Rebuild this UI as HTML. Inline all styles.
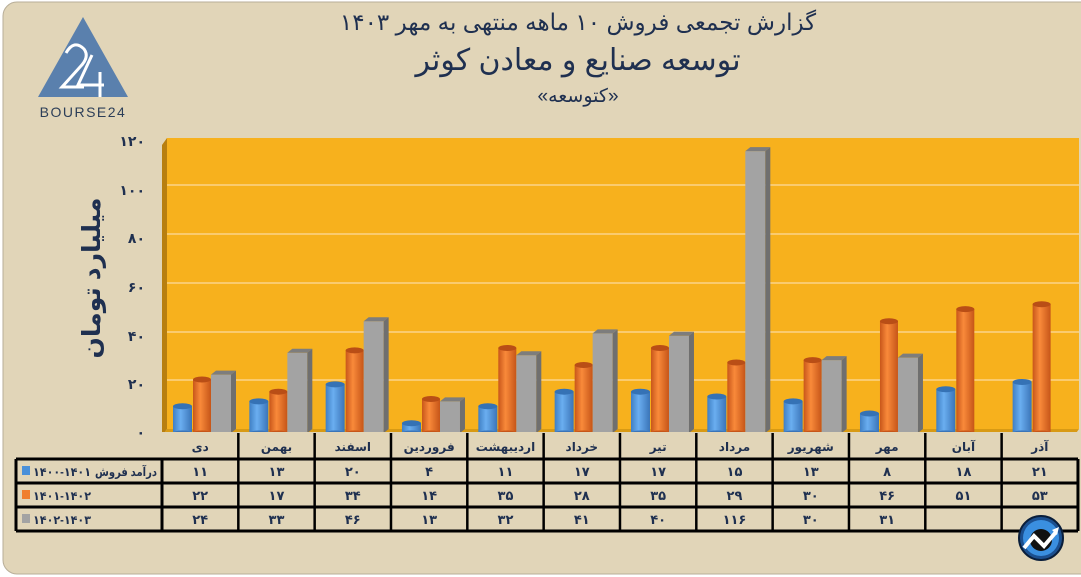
<!DOCTYPE html>
<html><head><meta charset="utf-8"><style>
body{margin:0;background:#fff}
svg{display:block}
text{font-family:"Liberation Sans","DejaVu Sans",sans-serif}
</style></head><body>
<svg width="1081" height="577" viewBox="0 0 1081 577" xmlns="http://www.w3.org/2000/svg">
<defs>
<linearGradient id="gb" x1="0" x2="1"><stop offset="0" stop-color="#3f7fc4"/><stop offset="0.4" stop-color="#6aaef0"/><stop offset="1" stop-color="#3a74b8"/></linearGradient>
<linearGradient id="go" x1="0" x2="1"><stop offset="0" stop-color="#c8561a"/><stop offset="0.4" stop-color="#f98a3a"/><stop offset="1" stop-color="#c65518"/></linearGradient>
</defs>
<rect x="0" y="0" width="1081" height="577" fill="#fff"/>
<rect x="3" y="2" width="1100" height="572" rx="14" fill="#e1d5b8" stroke="#b8ae98" stroke-width="1"/>
<polygon points="83,17 128,97 38,97" fill="#5a80ad"/>
<path d="M66,53 q8,-14 18,-4 q6,8 -4,18 l-18,20 h22" stroke="#fff" stroke-width="3" fill="none"/>
<path d="M92,55 l-14,30 h26 M100,72 v25" stroke="#fff" stroke-width="3" fill="none"/>
<text x="83" y="117" font-size="14" fill="#2c3e58" text-anchor="middle" letter-spacing="1.5">BOURSE24</text>
<text x="578" y="30" font-size="23" fill="#1f3050" text-anchor="middle">گزارش تجمعی فروش ۱۰ ماهه منتهی به مهر ۱۴۰۳</text>
<text x="578" y="70" font-size="30" fill="#1f3050" text-anchor="middle">توسعه صنایع و معادن کوثر</text>
<text x="578" y="102" font-size="19" fill="#1f3050" text-anchor="middle">«کتوسعه»</text>
<polygon points="162,145 167,138 167,429 162,436" fill="#b87f10"/>
<rect x="167" y="138" width="912" height="291" fill="#f7b11d"/>
<polygon points="162,436 167,429 1079,429 1074,436" fill="#d89a14"/>
<g stroke="#fbd48a" stroke-width="1.5">
<line x1="167" y1="185" x2="1079" y2="185"/><line x1="167" y1="234" x2="1079" y2="234"/>
<line x1="167" y1="283" x2="1079" y2="283"/><line x1="167" y1="332" x2="1079" y2="332"/>
<line x1="167" y1="380" x2="1079" y2="380"/>
</g>
<g font-size="14" font-weight="bold" fill="#1f3050" text-anchor="end">
<text x="145" y="146">۱۲۰</text><text x="145" y="195">۱۰۰</text><text x="145" y="243">۸۰</text>
<text x="145" y="292">۶۰</text><text x="145" y="341">۴۰</text><text x="145" y="389">۲۰</text><text x="145" y="437">۰</text>
</g>
<text transform="translate(100,278) rotate(-90)" font-size="25" font-weight="bold" fill="#1f3050" text-anchor="middle">میلیارد تومان</text>
<g id="bars"></g>
<rect x="162" y="432" width="916" height="26" fill="#e1d5b8"/>
<g stroke="#000" stroke-width="3" fill="none">
<line x1="16" y1="459" x2="1078" y2="459"/><line x1="16" y1="483" x2="1078" y2="483"/>
<line x1="16" y1="507" x2="1078" y2="507"/><line x1="16" y1="531" x2="1078" y2="531"/>
<line x1="16" y1="459" x2="16" y2="531"/>
</g>
<g id="tbl"></g>
<circle cx="1041" cy="538" r="22" fill="#1b4f8f" stroke="#0a1e3a" stroke-width="2"/>
<circle cx="1041" cy="538" r="18" fill="#3a8fe0"/>
<circle cx="1041" cy="540" r="11" fill="#111"/>
<path d="M1024,548 l10,-12 l10,10 l12,-14" stroke="#fff" stroke-width="4" fill="none"/>
<path d="M1052,530 l7,-3 l-2,8 z" fill="#fff"/>
</svg>
<script>
const months=["دی","بهمن","اسفند","فروردین","اردیبهشت","خرداد","تیر","مرداد","شهریور","مهر","آبان","آذر"];
const a=[11,13,20,4,11,17,17,15,13,8,18,21],b=[22,17,34,14,35,28,35,29,30,46,51,53],c=[24,33,46,13,32,41,40,116,30,31,null,null];
const fa=n=>String(n).replace(/\d/g,d=>"۰۱۲۳۴۵۶۷۸۹"[d]);
let s="";const base=433,k=2.43,W=76.33;
for(let i=0;i<12;i++){const x=162+i*W;
 const cyl=(x0,w,v,fill,top,side)=>{const y=base-v*k;return `<rect x="${x0}" y="${y}" width="${w}" height="${base-y}" fill="${fill}"/><ellipse cx="${x0+w/2}" cy="${y}" rx="${w/2}" ry="3" fill="${top}"/><ellipse cx="${x0+w/2}" cy="${base}" rx="${w/2}" ry="2.5" fill="${side}"/>`;};
 s+=cyl(x+11,19,a[i],"url(#gb)","#3572b5","#3a74b8");
 s+=cyl(x+31,18,b[i],"url(#go)","#b94e16","#c65518");
 if(c[i]!=null){const y=base-c[i]*k;s+=`<rect x="${x+49}" y="${y}" width="20" height="${base-y}" fill="#a3a3a3"/><polygon points="${x+69},${y} ${x+74},${y-4} ${x+74},${base-4} ${x+69},${base}" fill="#6f6f6f"/><polygon points="${x+49},${y} ${x+54},${y-4} ${x+74},${y-4} ${x+69},${y}" fill="#7d7d7d"/>`;}
}
document.getElementById("bars").innerHTML=s;
let t="";
for(let i=0;i<=12;i++){const x=162+i*W;t+=`<line x1="${x}" y1="${i==0||i==12?459:433}" x2="${x}" y2="531" stroke="#000" stroke-width="${i==0||i==12?3:2.5}"/>`;}
for(let i=0;i<12;i++){const cx=162+i*W+W/2;
 t+=`<text x="${cx}" y="451" font-size="12" font-weight="bold" fill="#1f3050" text-anchor="middle">${months[i]}</text>`;
 [a,b,c].forEach((arr,r)=>{if(arr[i]!=null)t+=`<text x="${cx}" y="${476+r*24}" font-size="13" font-weight="bold" fill="#1f3050" text-anchor="middle">${fa(arr[i])}</text>`;});
}
const cols=["#4a90d9","#f07f2e","#a3a3a3"],nums=["۱۴۰۰-۱۴۰۱","۱۴۰۱-۱۴۰۲","۱۴۰۲-۱۴۰۳"];
nums.forEach((l,r)=>{t+=`<rect x="22" y="${466+r*24}" width="8" height="9" fill="${cols[r]}"/><text x="33" y="${476+r*24}" font-size="12" font-weight="bold" fill="#1f3050" direction="ltr" textLength="58" lengthAdjust="spacingAndGlyphs">${l}</text>`;});
t+=`<text x="95" y="476" font-size="12" font-weight="bold" fill="#1f3050" textLength="62" lengthAdjust="spacingAndGlyphs">درآمد فروش</text>`;
document.getElementById("tbl").innerHTML=t;
</script>
</body></html>
